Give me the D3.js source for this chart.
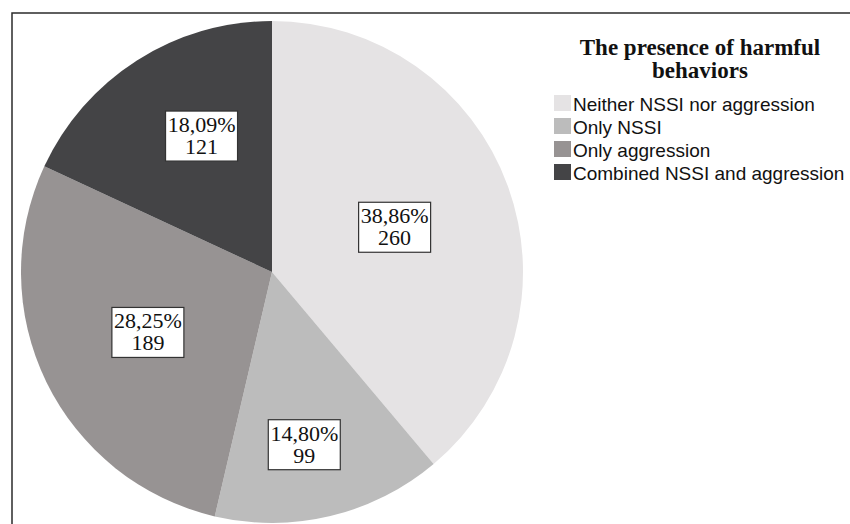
<!DOCTYPE html>
<html>
  <head>
    <meta charset="utf-8">
    <title>Harmful behaviors</title>
    <style>
      html, body { margin: 0; padding: 0; background: #fff; }
      svg { display: block; }
    </style>
  </head>
  <body>
    <script src="https://cdn.jsdelivr.net/npm/d3@7"></script>
    <div id="chart"></div>
    <script>

      // data
      var categories = ['Neither NSSI nor aggression', 'Only NSSI', 'Only aggression', 'Combined NSSI and aggression']
      var counts = [260, 99, 189, 121]
      var percents = ['38,86%', '14,80%', '28,25%', '18,09%']
      var colors = ['#e5e3e4', '#bcbcbc', '#979393', '#444446']
      var legendTitle = ['The presence of harmful', 'behaviors']

      // label placement (fraction of radius, angle nudge)
      var labelR = [0.52, 0.70, 0.55, 0.61]
      var labelNudge = [0, 0.05, 0, 0.09]

      var W = 850, H = 524
      var cx = 272, cy = 272, R = 251

      var svg = d3.select('#chart').append('svg')
        .attr('width', W)
        .attr('height', H)

      // frame (runs off right and bottom edges)
      svg.append('rect')
        .attr('x', 12).attr('y', 13)
        .attr('width', 860).attr('height', 540)
        .attr('fill', 'none')
        .attr('stroke', '#2b2b2b')
        .attr('stroke-width', 1.5)

      var pie = d3.pie().sort(null).value(function(d){ return d })
      var arcs = pie(counts)
      var arc = d3.arc().innerRadius(0).outerRadius(R)

      var g = svg.append('g').attr('transform', 'translate(' + cx + ',' + cy + ')')

      g.selectAll('path.slice')
        .data(arcs)
        .enter()
        .append('path')
        .attr('class', 'slice')
        .attr('d', arc)
        .attr('fill', function(d, i){ return colors[i] })

      // value labels in boxes
      var labels = g.selectAll('g.lab')
        .data(arcs)
        .enter()
        .append('g')
        .attr('class', 'lab')
        .attr('transform', function(d, i){
          var a = (d.startAngle + d.endAngle) / 2 + labelNudge[i]
          var r = R * labelR[i]
          return 'translate(' + (r * Math.sin(a)) + ',' + (-r * Math.cos(a)) + ')'
        })

      labels.append('rect')
        .attr('x', -36).attr('y', -25)
        .attr('width', 72).attr('height', 50)
        .attr('fill', '#fff')
        .attr('stroke', '#333')
        .attr('stroke-width', 1.2)

      labels.append('text')
        .attr('text-anchor', 'middle')
        .attr('y', -4)
        .style('font-family', '"Liberation Serif", "Times New Roman", serif')
        .style('font-size', '22px')
        .style('fill', '#111')
        .text(function(d, i){ return percents[i] })

      labels.append('text')
        .attr('text-anchor', 'middle')
        .attr('y', 18)
        .style('font-family', '"Liberation Serif", "Times New Roman", serif')
        .style('font-size', '22px')
        .style('fill', '#111')
        .text(function(d, i){ return counts[i] })

      // legend
      var legend = svg.append('g')

      legend.selectAll('text.title')
        .data(legendTitle)
        .enter()
        .append('text')
        .attr('class', 'title')
        .attr('x', 700)
        .attr('y', function(d, i){ return 55 + i * 23 })
        .attr('text-anchor', 'middle')
        .style('font-family', '"Liberation Serif", "Times New Roman", serif')
        .style('font-weight', 'bold')
        .style('font-size', '23px')
        .style('fill', '#111')
        .text(function(d){ return d })

      var items = legend.selectAll('g.item')
        .data(categories)
        .enter()
        .append('g')
        .attr('class', 'item')
        .attr('transform', function(d, i){ return 'translate(554,' + (95 + i * 23) + ')' })

      items.append('rect')
        .attr('width', 17).attr('height', 16)
        .attr('fill', function(d, i){ return colors[i] })

      items.append('text')
        .attr('x', 19)
        .attr('y', 16)
        .style('font-family', '"Liberation Sans", Arial, sans-serif')
        .style('font-size', '19px')
        .style('fill', '#111')
        .text(function(d){ return d })

    </script>
  </body>
</html>
